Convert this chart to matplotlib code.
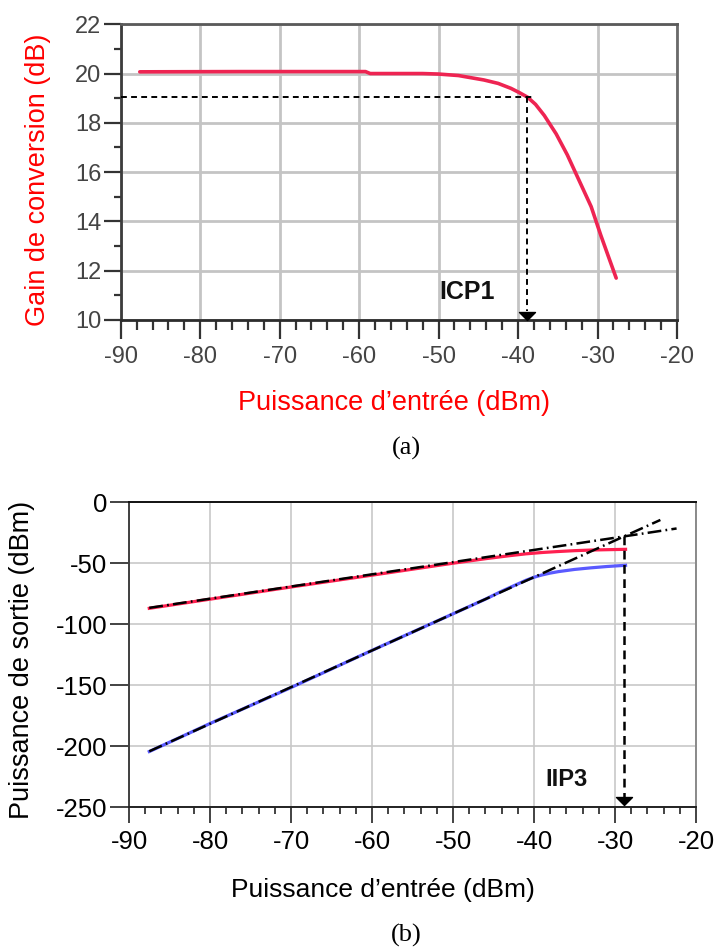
import matplotlib
matplotlib.use("Agg")
import matplotlib.pyplot as plt
from matplotlib.path import Path
from matplotlib.ticker import MultipleLocator

plt.rcParams['font.family'] = ['Liberation Sans', 'DejaVu Sans']
plt.rcParams['axes.unicode_minus'] = False

# (a) conversion gain vs input power
gain_pin = [-87.6, -75, -65, -59.2, -58.6, -52, -50, -47.5, -44.3, -42.5, -40.9,
            -39.8, -38.8, -37.8, -36.7, -35.2, -33.8, -32.3, -30.8, -29.6, -28.6, -27.65]
gain_db = [20.07, 20.08, 20.08, 20.08, 20.0, 20.0, 19.98, 19.92, 19.74, 19.6, 19.40,
           19.22, 19.04, 18.75, 18.3, 17.55, 16.7, 15.65, 14.6, 13.45, 12.55, 11.7]
icp1_pin = -38.9
icp1_gain = 19.03
icp1_hline_end = -38.0

gain_xticks = [-90, -80, -70, -60, -50, -40, -30, -20]
gain_yticks = [10, 12, 14, 16, 18, 20, 22]

# (b) fundamental and third-order output power vs input power
fund_pin = [-87.5, -80, -70, -60, -50, -46, -43, -41, -39, -37, -35, -33, -31, -28.7]
fund_pout = [-87, -79.5, -69.5, -59.8, -50, -46.3, -43.8, -42.3, -41.2, -40.4,
             -39.7, -39.2, -38.9, -38.6]
im3_pin = [-87.5, -80, -70, -60, -50, -46, -44, -42, -41, -40, -39, -38, -37,
           -35, -33, -31, -28.7]
im3_pout = [-204.5, -181.5, -152, -121.5, -91.5, -79.5, -73.0, -67.0, -64.0, -61.5,
            -59.6, -58.1, -56.9, -55.1, -53.8, -52.7, -51.7]
# linear extrapolations (slope 1 and slope 3)
fund_ext_pin = [-87.5, -22.4]
fund_ext_pout = [-86.6, -21.5]
im3_ext_pin = [-87.5, -24.4]
im3_ext_pout = [-204.3, -14.5]
iip3_pin = -28.9
iip3_pout = -28.0

out_xticks = [-90, -80, -70, -60, -50, -40, -30, -20]
out_yticks = [-250, -200, -150, -100, -50, 0]

# downward arrow head with its tip at the marker origin
arrow_head = Path([(-1.0, 1.0), (1.0, 1.0), (0.0, 0.0), (-1.0, 1.0)],
                  [Path.MOVETO, Path.LINETO, Path.LINETO, Path.CLOSEPOLY])

fig = plt.figure(figsize=(7.16, 9.52), dpi=100)

# ---------------- (a) ----------------
ax1 = fig.add_axes([0.1686, 0.6639, 0.7769, 0.3106])
ax1.set_xlim(-90, -20)
ax1.set_ylim(10, 22)
ax1.set_xticks(gain_xticks)
ax1.set_xticklabels([str(v) for v in gain_xticks])
ax1.set_yticks(gain_yticks)
ax1.set_yticklabels([str(v) for v in gain_yticks])
ax1.xaxis.set_minor_locator(MultipleLocator(2))
ax1.yaxis.set_minor_locator(MultipleLocator(1))
ax1.grid(True, which='major', color='#c4c4c4', linewidth=2.0)
ax1.set_axisbelow(True)
for side, col in (('top', '#5a5a5a'), ('right', '#6a6a6a'),
                  ('left', '#3c3c3c'), ('bottom', '#2c2c2c')):
    ax1.spines[side].set_color(col)
    ax1.spines[side].set_linewidth(2.0)
ax1.tick_params(axis='x', which='major', direction='out', length=13.5, width=1.6,
                color='#333333', pad=5, labelsize=17, labelcolor='#444444')
ax1.tick_params(axis='x', which='minor', direction='out', length=7.5, width=1.6,
                color='#333333')
ax1.tick_params(axis='y', which='major', direction='out', length=12, width=1.6,
                color='#333333', pad=2, labelsize=17, labelcolor='#444444')
ax1.tick_params(axis='y', which='minor', direction='out', length=5, width=1.6,
                color='#333333')

ax1.plot(gain_pin, gain_db, color='#ee2452', linewidth=2.6, solid_capstyle='round',
         zorder=3)
ax1.plot([-90, icp1_hline_end], [icp1_gain, icp1_gain], color='black',
         linewidth=1.4, linestyle=(0, (3.0, 2.2)), zorder=4)
ax1.plot([icp1_pin, icp1_pin], [icp1_gain, 10.35], color='black',
         linewidth=1.4, linestyle=(0, (3.0, 2.2)), zorder=4)
ax1.plot([icp1_pin], [10.0], marker=arrow_head, markersize=11.5, color='black',
         linestyle='none', zorder=5, clip_on=False)
ax1.text(-46.4, 11.12, 'ICP1', fontsize=18, fontweight='bold', ha='center',
         va='center', color='#111111')

fig.text(0.053, 0.811, 'Gain de conversion (dB)', rotation=90, fontsize=19.5,
         color='#ff0000', ha='center', va='center')
fig.text(0.550, 0.5693, 'Puissance d\u2019entr\u00e9e (dBm)', fontsize=19.5,
         color='#ff0000', ha='center', va='baseline')
fig.text(0.567, 0.5289, '(a)', fontsize=19, family='Liberation Serif',
         ha='center', va='center', color='black')

# ---------------- (b) ----------------
ax2 = fig.add_axes([0.1802, 0.1523, 0.7919, 0.3201])
ax2.set_xlim(-90, -20)
ax2.set_ylim(-250, 0)
ax2.set_xticks(out_xticks)
ax2.set_xticklabels([str(v) for v in out_xticks])
ax2.set_yticks(out_yticks)
ax2.set_yticklabels([str(v) for v in out_yticks])
ax2.xaxis.set_minor_locator(MultipleLocator(2))
ax2.grid(True, which='major', color='#c8c8c8', linewidth=1.2)
ax2.set_axisbelow(True)
for side, col in (('top', '#111111'), ('right', '#8a8a8a'),
                  ('left', '#404040'), ('bottom', '#222222')):
    ax2.spines[side].set_color(col)
    ax2.spines[side].set_linewidth(1.4)
ax2.tick_params(axis='x', which='major', direction='out', length=11.5, width=1.2,
                color='#222222', pad=5, labelsize=18.5, labelcolor='black')
ax2.tick_params(axis='x', which='minor', direction='out', length=5, width=1.2,
                color='#222222')
ax2.tick_params(axis='y', which='major', direction='out', length=13.5, width=1.2,
                color='#222222', pad=2, labelsize=18.5, labelcolor='black')

ax2.plot(fund_pin, fund_pout, color='#ff2050', linewidth=2.3, zorder=3)
ax2.plot(im3_pin, im3_pout, color='#5a5aff', linewidth=2.3, zorder=3)
dash_dot = (0, (5.5, 1.7, 0.7, 1.7))
ax2.plot(fund_ext_pin, fund_ext_pout, color='black', linewidth=1.8,
         linestyle=dash_dot, zorder=4)
ax2.plot(im3_ext_pin, im3_ext_pout, color='black', linewidth=1.8,
         linestyle=dash_dot, zorder=4)
ax2.plot([iip3_pin, iip3_pin], [iip3_pout, -243], color='black', linewidth=1.8,
         linestyle=(0, (3.5, 2.2)), zorder=4)
ax2.plot([iip3_pin], [-248], marker=arrow_head, markersize=11.5, color='black',
         linestyle='none', zorder=5)
ax2.text(-36.05, -227.1, 'IIP3', fontsize=17, fontweight='bold', ha='center',
         va='center', color='#111111')

fig.text(0.0307, 0.3067, 'Puissance de sortie (dBm)', rotation=90, fontsize=19.5,
         color='black', ha='center', va='center')
fig.text(0.535, 0.0578, 'Puissance d\u2019entr\u00e9e (dBm)', fontsize=19,
         color='black', ha='center', va='baseline')
fig.text(0.567, 0.0179, '(b)', fontsize=19, family='Liberation Serif',
         ha='center', va='center', color='black')

fig.savefig('out.png', dpi=100, facecolor='white')
